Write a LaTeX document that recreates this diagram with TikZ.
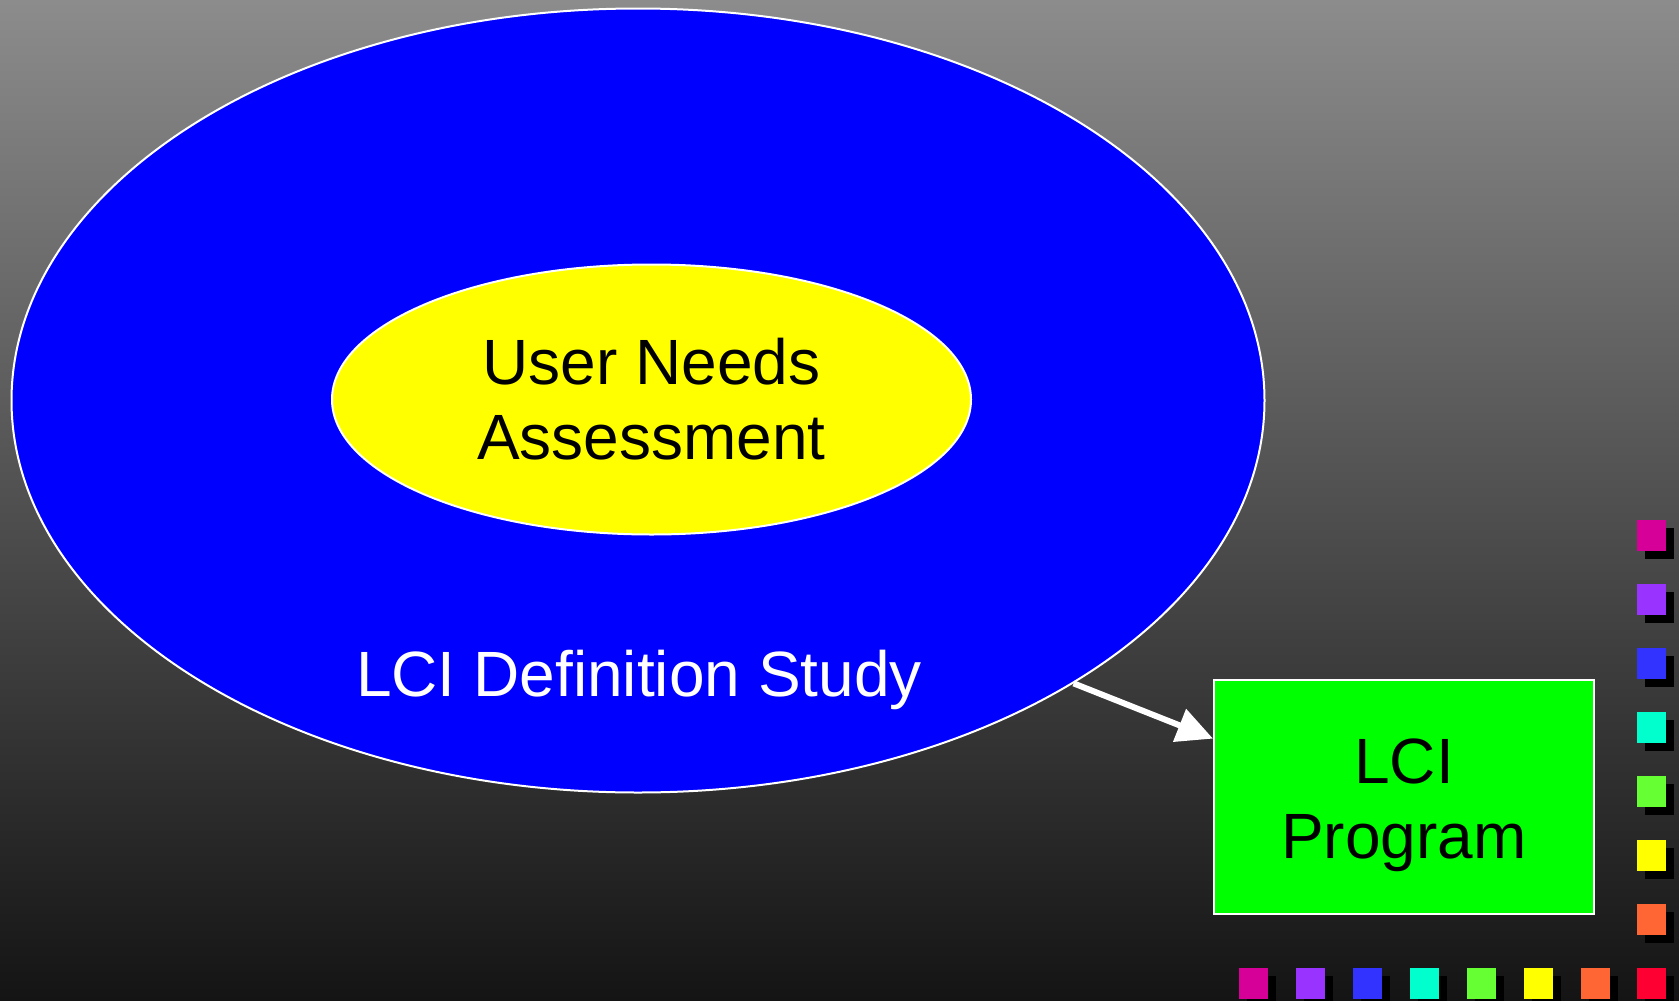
\documentclass[tikz,border=0pt]{standalone}
\usepackage{fontspec}
\setmainfont{Liberation Sans}
\usetikzlibrary{shapes.geometric,arrows.meta}
\definecolor{bgtop}{RGB}{140,140,140}
\definecolor{bgbot}{RGB}{20,20,20}
\definecolor{cMag}{RGB}{214,0,153}
\definecolor{cPur}{RGB}{153,51,255}
\definecolor{cBlu}{RGB}{51,51,255}
\definecolor{cCya}{RGB}{0,255,204}
\definecolor{cGrn}{RGB}{102,255,51}
\definecolor{cYel}{RGB}{255,255,0}
\definecolor{cOra}{RGB}{255,102,51}
\definecolor{cRed}{RGB}{255,0,51}
\definecolor{boxgreen}{RGB}{0,255,0}
\definecolor{ellblue}{RGB}{0,0,255}
\definecolor{ellyellow}{RGB}{255,255,0}
\tikzset{
  bigtext/.style={font=\fontsize{64}{75}\selectfont, align=center, inner sep=0pt},
  outerell/.style={ellipse, draw=white, line width=2pt, fill=ellblue, inner sep=0pt},
  innerell/.style={ellipse, draw=white, line width=2pt, fill=ellyellow, text=black, inner sep=0pt},
  progbox/.style={rectangle, draw=white, line width=2pt, fill=boxgreen, inner sep=0pt},
  flow/.style={draw=white, line width=6pt, -{Triangle[length=36pt,width=34pt]}},
}
\newcommand{\shsq}[3]{%
  \fill[black] (#1+8,#2+8) rectangle ++(29,31);
  \fill[#3] (#1,#2) rectangle ++(29,31);}
\begin{document}
\begin{tikzpicture}[x=1pt,y=-1pt]
\useasboundingbox (0,0) rectangle (1679,1001);
\shade[top color=bgtop, bottom color=bgbot] (0,0) rectangle (1679,1001);
\node[outerell, minimum width=1253pt, minimum height=784pt] (def) at (638,400.5) {};
\node[innerell, bigtext, minimum width=639pt, minimum height=270pt] (una) at (651.5,399.5) {User Needs\\Assessment};
\node[bigtext, text=white, anchor=base] (deflabel) at (639,696) {LCI Definition Study};
\node[progbox, minimum width=380pt, minimum height=234pt] (lci) at (1404,797) {};
\node[bigtext, text=black] (lcit) at (1404,805) {LCI\\Program};
\draw[flow] (def.-33.4) -- (lci.163);
% column of squares
\shsq{1637}{520}{cMag}
\shsq{1637}{584}{cPur}
\shsq{1637}{648}{cBlu}
\shsq{1637}{712}{cCya}
\shsq{1637}{776}{cGrn}
\shsq{1637}{840}{cYel}
\shsq{1637}{904}{cOra}
% bottom row
\shsq{1239}{968}{cMag}
\shsq{1296}{968}{cPur}
\shsq{1353}{968}{cBlu}
\shsq{1410}{968}{cCya}
\shsq{1467}{968}{cGrn}
\shsq{1524}{968}{cYel}
\shsq{1581}{968}{cOra}
\shsq{1637}{968}{cRed}
\end{tikzpicture}
\end{document}
